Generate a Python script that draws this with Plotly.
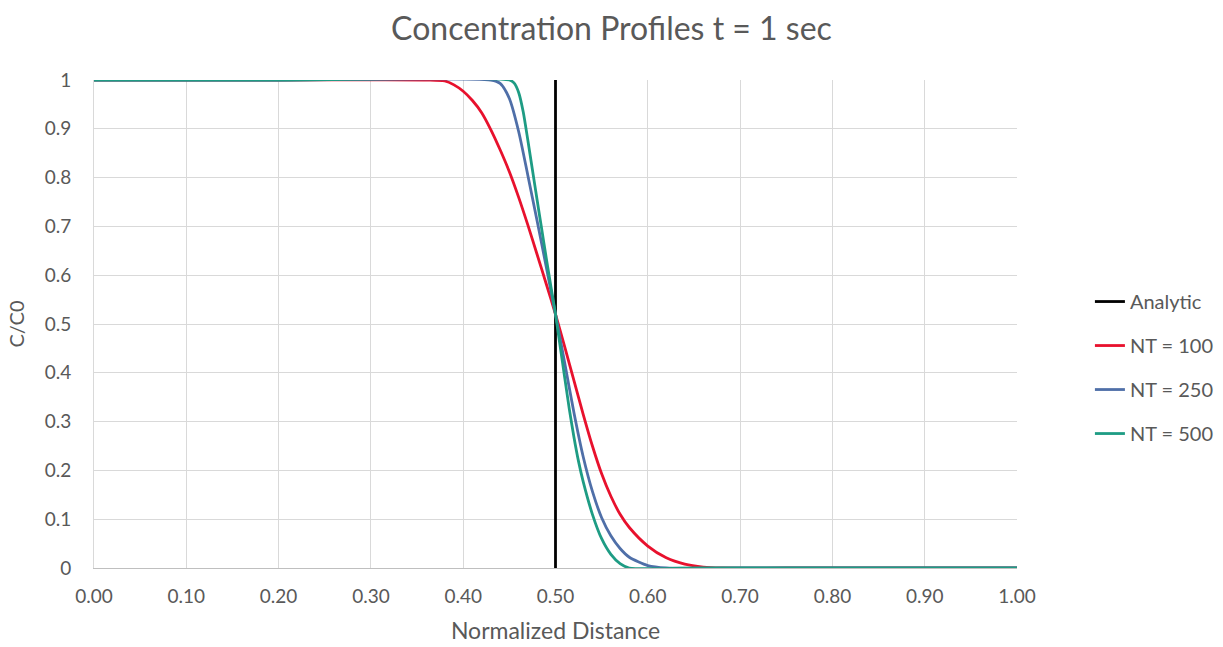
import plotly.graph_objects as go

# Analytic step solution (vertical front at x = 0.5)
analytic_x = [0.5, 0.5]
analytic_y = [1.0, 0.0]

# NT = 100
nt100_x = [0.0, 0.2, 0.36, 0.38, 0.39, 0.40, 0.41, 0.42, 0.43, 0.44, 0.45, 0.46, 0.47, 0.48, 0.49, 0.50,
           0.51, 0.52, 0.53, 0.54, 0.55, 0.56, 0.57, 0.58, 0.60, 0.62, 0.64, 0.66, 0.68, 0.75, 0.85, 1.0]
nt100_y = [1.0, 1.0, 1.0, 0.998, 0.99, 0.977, 0.958, 0.933, 0.898, 0.857, 0.812, 0.76, 0.703, 0.643, 0.582, 0.52,
           0.453, 0.384, 0.315, 0.25, 0.193, 0.147, 0.11, 0.083, 0.045, 0.021, 0.008, 0.002, 0.0, 0.0, 0.0, 0.0]

# NT = 250
nt250_x = [0.0, 0.2, 0.43, 0.44, 0.45, 0.46, 0.47, 0.48, 0.49, 0.50, 0.51, 0.52, 0.53, 0.54, 0.55, 0.56,
           0.57, 0.58, 0.60, 0.62, 0.7, 0.85, 1.0]
nt250_y = [1.0, 1.0, 1.0, 0.993, 0.962, 0.895, 0.805, 0.712, 0.617, 0.52, 0.42, 0.318, 0.228, 0.157, 0.103, 0.066,
           0.04, 0.022, 0.005, 0.0, 0.0, 0.0, 0.0]

# NT = 500
nt500_x = [0.0, 0.2, 0.45, 0.455, 0.46, 0.465, 0.47, 0.475, 0.48, 0.485, 0.49, 0.495, 0.50, 0.505, 0.51,
           0.515, 0.52, 0.525, 0.53, 0.54, 0.55, 0.56, 0.57, 0.58, 0.65, 0.8, 1.0]
nt500_y = [1.0, 1.0, 1.0, 0.994, 0.975, 0.935, 0.877, 0.816, 0.755, 0.695, 0.635, 0.577, 0.52, 0.455, 0.39,
           0.325, 0.268, 0.218, 0.177, 0.11, 0.06, 0.028, 0.009, 0.0, 0.0, 0.0, 0.0]

x_ticks = [i / 10 for i in range(11)]
y_ticks = [i / 10 for i in range(11)]

FONT = "Lato"
GRAY = "#595959"

fig = go.Figure()
series = [
    ("Analytic", analytic_x, analytic_y, "#000000"),
    ("NT = 100", nt100_x, nt100_y, "#E8112D"),
    ("NT = 250", nt250_x, nt250_y, "#4F6FA8"),
    ("NT = 500", nt500_x, nt500_y, "#1E9C84"),
]
for i, (name, xs, ys, col) in enumerate(series):
    fig.add_trace(go.Scatter(x=xs, y=ys, mode="lines", name=name,
                             line=dict(color=col, width=2.8, shape="spline", smoothing=0.7),
                             legendgroup=f"g{i}"))

fig.update_layout(
    width=1223, height=647,
    paper_bgcolor="white", plot_bgcolor="white",
    margin=dict(l=94, r=206, t=80, b=79, autoexpand=False),
    font=dict(family=FONT, color=GRAY, size=19),
    title=dict(text="Concentration Profiles t = 1 sec", x=0.5, xanchor="center",
               y=0.955, yanchor="middle", font=dict(size=32, color=GRAY, family=FONT)),
    xaxis=dict(range=[0, 1], tickvals=x_ticks, tickformat=".2f", showgrid=True,
               gridcolor="#D9D9D9", gridwidth=1, zeroline=False, showline=True,
               linecolor="#BFBFBF", linewidth=1, ticks="outside", ticklen=11,
               tickcolor="rgba(0,0,0,0)",
               tickfont=dict(size=19, color=GRAY),
               title=dict(text="Normalized Distance", font=dict(size=23, color=GRAY), standoff=17)),
    yaxis=dict(range=[0, 1], tickvals=y_ticks, showgrid=True,
               gridcolor="#D9D9D9", gridwidth=1, zeroline=False, showline=True,
               linecolor="#D9D9D9", linewidth=1, ticks="outside", ticklen=18,
               tickcolor="rgba(0,0,0,0)",
               tickfont=dict(size=19, color=GRAY),
               title=dict(text="C/C0", font=dict(size=20, color=GRAY), standoff=14)),
    legend=dict(x=1.079, xanchor="left", y=0.586, yanchor="top",
                font=dict(size=20, color=GRAY), tracegroupgap=15,
                bgcolor="rgba(0,0,0,0)"),
)

fig.write_html("out.html")
